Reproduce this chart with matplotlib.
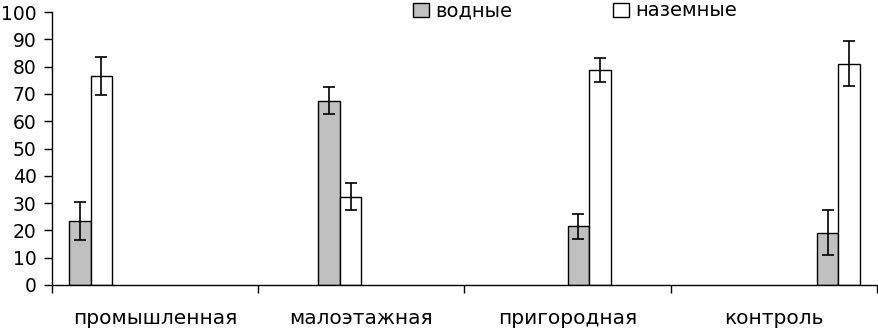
import matplotlib
matplotlib.use("Agg")
import matplotlib.pyplot as plt
import numpy as np

categories = ["промышленная", "малоэтажная", "пригородная", "контроль"]
series_names = ["водные", "наземные"]
water = [23.5, 67.5, 21.5, 19.2]
water_err = [7.0, 5.0, 4.5, 8.2]
land = [76.5, 32.3, 78.8, 81.0]
land_err = [7.0, 5.0, 4.4, 8.2]
yticks = list(range(0, 101, 10))

plt.rcParams['font.family'] = ['DejaVu Sans']
fig = plt.figure(figsize=(8.79, 3.29), dpi=100)
ax = fig.add_axes([52/879, 44/329, (877-52)/879, (285-12)/329])

n_slots = 8
w = 0.1042
half_gap = (1 - n_slots*w) / 2
idx = np.arange(len(categories))
x_water = idx - 0.5 + half_gap + (2*idx + 0.5)*w
x_land = idx - 0.5 + half_gap + (2*idx + 1.5)*w

ax.bar(x_water, water, width=w, color='#c0c0c0', edgecolor='black', linewidth=1.0, label=series_names[0], zorder=2)
ax.bar(x_land, land, width=w, color='white', edgecolor='black', linewidth=1.0, label=series_names[1], zorder=2)
ax.errorbar(x_water, water, yerr=water_err, fmt='none', ecolor='black', elinewidth=1.2, capsize=4.5, capthick=1.2, zorder=3)
ax.errorbar(x_land, land, yerr=land_err, fmt='none', ecolor='black', elinewidth=1.2, capsize=4.5, capthick=1.2, zorder=3)

ax.set_xlim(-0.5, len(categories) - 0.5)
ax.set_ylim(0, 100)
ax.set_yticks(yticks)
ax.tick_params(axis='y', direction='out', length=6, width=1, labelsize=13.5, pad=5)
ax.set_xticks(np.arange(len(categories) + 1) - 0.5)
ax.set_xticklabels([])
ax.tick_params(axis='x', which='major', direction='out', length=6, width=1)
ax.set_xticks(idx, minor=True)
ax.set_xticklabels(categories, minor=True)
ax.tick_params(axis='x', which='minor', length=0, labelsize=14.5, pad=17)
for s in ['top', 'right']:
    ax.spines[s].set_visible(False)
for s in ['left', 'bottom']:
    ax.spines[s].set_linewidth(1.0)

fig.legend(loc='center left', bbox_to_anchor=(413/879, 1 - 11/329), ncol=2, frameon=False,
           fontsize=14, handlelength=0.8, handleheight=0.7, handletextpad=0.33,
           columnspacing=5.2, borderpad=0, borderaxespad=0)

fig.savefig("out.png", dpi=100)
